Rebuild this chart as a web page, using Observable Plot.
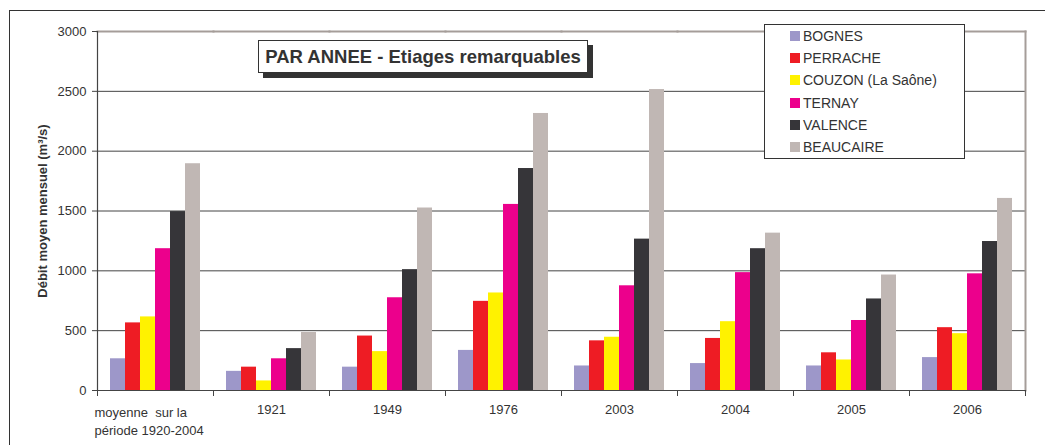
<!DOCTYPE html>
<html>
<head>
<meta charset="utf-8">
<script src="https://cdn.jsdelivr.net/npm/d3@7"></script>
<script src="https://cdn.jsdelivr.net/npm/@observablehq/plot@0.6"></script>
<style>
  html, body { margin: 0; padding: 0; background: #fff; }
  #wrap { position: relative; width: 1045px; height: 445px; overflow: hidden; font-family: "Liberation Sans", Arial, sans-serif; color: #333; }
  #outer { position: absolute; left: 9px; top: 10px; width: 1100px; height: 500px; border: 1px solid #333; box-sizing: border-box; }
  #chart { position: absolute; left: 0; top: 0; }
  #title { position: absolute; left: 258px; top: 40px; width: 330px; height: 33px; box-sizing: border-box; border: 1px solid #333; background: #fff; box-shadow: 5px 5px 0 #333; display: flex; align-items: center; justify-content: center; font-weight: bold; font-size: 18.5px; color: #333; white-space: nowrap; }
  #legend { position: absolute; left: 764px; top: 24px; width: 201px; height: 135px; box-sizing: border-box; border: 1px solid #333; background: #fff; }
  .row { height: 22.2px; display: flex; align-items: center; padding-left: 25px; font-size: 14px; color: #333; white-space: nowrap; }
  .sw { width: 10px; height: 10px; margin-right: 3px; flex: none; }
  g[aria-label="y-axis label"] text { font-weight: bold; font-size: 13px; }
</style>
</head>
<body>
<div id="wrap">
  <div id="outer"></div>
  <div id="chart"></div>
  <div id="title">PAR ANNEE - Etiages remarquables</div>
  <div id="legend"></div>
</div>
<script>
// Categories (x tick labels)
const groups = ["moyenne  sur la\npériode 1920-2004", "1921", "1949", "1976", "2003", "2004", "2005", "2006"];
// Series
const series = ["BOGNES", "PERRACHE", "COUZON (La Saône)", "TERNAY", "VALENCE", "BEAUCAIRE"];
const colors = ["#9d97c9", "#ee1c24", "#fff200", "#ec008c", "#363539", "#c0b7b4"];
// Values (m3/s) per series, in group order
const bognes    = [265, 160, 195, 335, 205, 225, 205, 275];
const perrache  = [565, 195, 455, 745, 415, 435, 315, 525];
const couzon    = [615,  80, 325, 815, 445, 575, 255, 475];
const ternay    = [1185, 265, 775, 1555, 875, 985, 585, 975];
const valence   = [1495, 350, 1010, 1855, 1265, 1185, 765, 1245];
const beaucaire = [1895, 485, 1525, 2315, 2515, 1315, 965, 1605];
const yTicks = [0, 500, 1000, 1500, 2000, 2500, 3000];

const valuesBySeries = [bognes, perrache, couzon, ternay, valence, beaucaire];
const rows = [];
groups.forEach((g, gi) => series.forEach((s, si) => rows.push({group: g, series: s, value: valuesBySeries[si][gi]})));

const W = 1045, H = 445, mT = 31, mB = 55, mL = 94, mR = 17;
const frameH = H - mT - mB;

const chart = Plot.plot({
  width: W, height: H,
  marginTop: mT, marginBottom: mB, marginLeft: mL, marginRight: mR,
  style: {fontFamily: "'Liberation Sans', Arial, sans-serif", fontSize: "12px", color: "#333", background: "transparent"},
  fx: {domain: groups, padding: 0, axis: null},
  x: {domain: series, paddingInner: 0, paddingOuter: 0.69, axis: null},
  y: {domain: [0, 3000], axis: null},
  color: {domain: series, range: colors},
  marks: [
    Plot.gridY(yTicks.slice(1, -1), {stroke: "#444", strokeOpacity: 1, strokeWidth: 1}),
    Plot.barY(rows, {fx: "group", x: "series", y: "value", fill: "series", inset: 0}),
    // plot border: gray top and right, dark bottom and left
    Plot.frame({anchor: "top", stroke: "#a59d99", strokeWidth: 2}),
    Plot.frame({anchor: "right", stroke: "#a59d99", strokeWidth: 2, fx: [groups[groups.length - 1]]}),
    Plot.frame({anchor: "bottom", stroke: "#444", strokeWidth: 1.2}),
    Plot.frame({anchor: "left", stroke: "#444", strokeWidth: 1.2, fx: [groups[0]]}),
    // tick marks at group boundaries
    Plot.frame({anchor: "left", stroke: "#444", strokeWidth: 1, insetTop: frameH, insetBottom: -5}),
    Plot.frame({anchor: "right", stroke: "#444", strokeWidth: 1, insetTop: frameH, insetBottom: -5, fx: [groups[groups.length - 1]]}),
    // y axis
    Plot.axisY(yTicks, {tickSize: 5, tickPadding: 6, fontSize: 13, stroke: "#444", fill: "#333", tickFormat: d => String(d),
      label: "Débit moyen mensuel (m³/s)", labelAnchor: "center", labelArrow: "none", labelOffset: 60}),
    // x labels
    Plot.text(groups.slice(0, 1), {fx: d => d, text: d => d, frameAnchor: "bottom-left", textAnchor: "start", lineAnchor: "top", dy: 14, dx: -3, lineHeight: 1.35, fill: "#333", fontSize: 13}),
    Plot.text(groups.slice(1), {fx: d => d, text: d => d, frameAnchor: "bottom", lineAnchor: "top", dy: 14, fill: "#333", fontSize: 13})
  ]
});
document.getElementById("chart").appendChild(chart);

// legend
const leg = document.getElementById("legend");
series.forEach((s, i) => {
  const r = document.createElement("div");
  r.className = "row";
  const sw = document.createElement("span");
  sw.className = "sw";
  sw.style.background = colors[i];
  r.appendChild(sw);
  r.appendChild(document.createTextNode(s));
  leg.appendChild(r);
});
</script>
</body>
</html>
